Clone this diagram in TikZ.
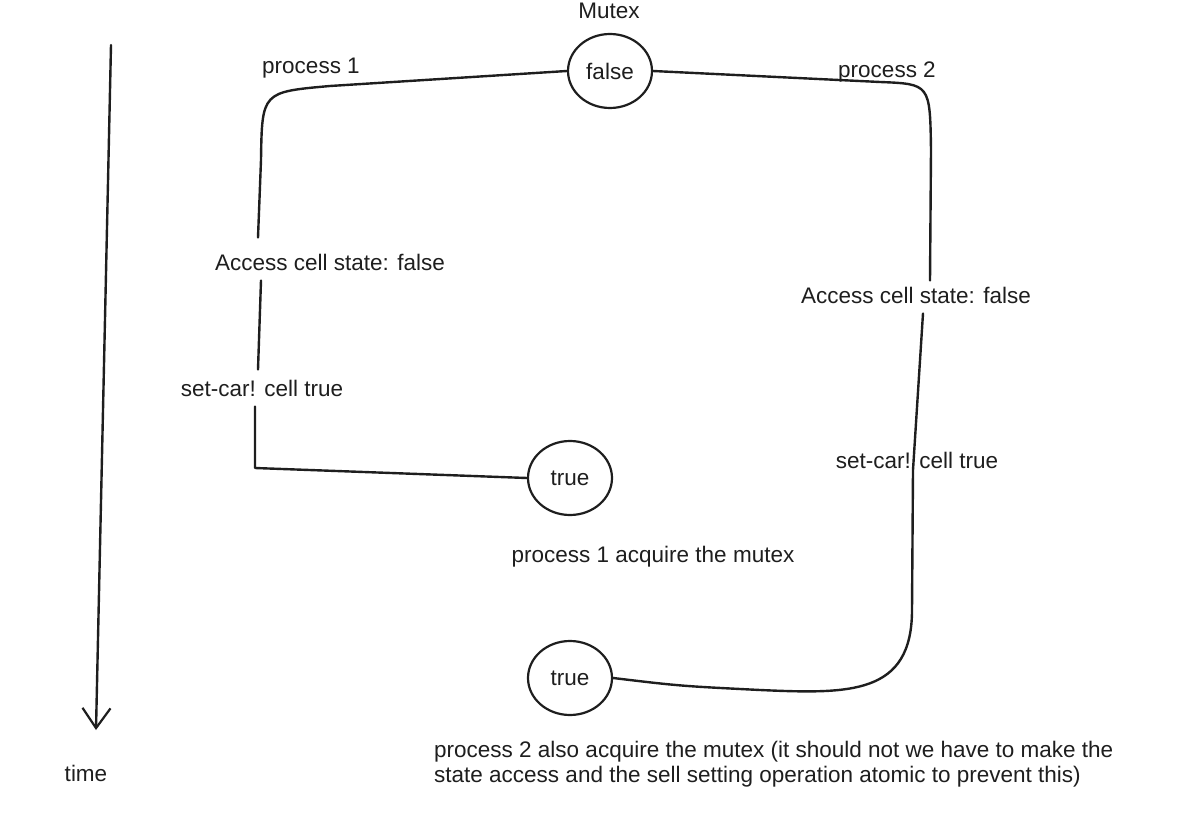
\documentclass[tikz,border=0pt]{standalone}
\usepackage{fontspec}
\setmainfont{Liberation Sans}
\usetikzlibrary{shapes.geometric,arrows.meta}
\definecolor{ink}{HTML}{1E1E1E}
\begin{document}
\begin{tikzpicture}[x=1pt,y=-1pt,
  every node/.style={text=ink,font=\fontsize{22.5}{25}\selectfont},
  state/.style={draw=ink,line width=2.2pt,ellipse,minimum width=84pt,minimum height=74pt,inner sep=0pt},
  wire/.style={draw=ink,line width=2.4pt,line cap=round,line join=round},
  lbl/.style={inner sep=2pt}]
\useasboundingbox (0,0) rectangle (1197,818);

% time axis
\coordinate (t0) at (111,45);
\coordinate (t1) at (96,730);
\draw[wire,-{Straight Barb[length=20pt,width=28pt,line width=2.2pt]}] (t0) -- (t1);
\node[lbl] (time) at (86,773) {time};

% mutex and its states
\node[lbl] (mutex) at (609,11) {Mutex};
\node[state] (mf) at (610,71) {false};
\node[state] (ta) at (570,478) {true};
\node[state] (tb) at (570,678) {true};

% step labels
\node[lbl] (p1) at (311,68) {process 1};
\node[lbl] (p2) at (887,72) {process 2};
\node[lbl] (acc1) at (330,262) {Access cell state: false};
\node[lbl] (set1) at (262,388) {set-car! cell true};
\node[lbl] (acc2) at (916,295) {Access cell state: false};
\node[lbl] (set2) at (917,460) {set-car! cell true};
\node[lbl] (got1) at (653,557) {process 1 acquire the mutex};
\node[lbl,anchor=north west,align=left] (got2) at (432,739)
  {process 2 also acquire the mutex (it should not we have to make the\\
   state access and the sell setting operation atomic to prevent this)};

% process 1 timeline
\draw[wire] (mf.west) -- (330,86) .. controls (262,92) .. (261,160) -- ([xshift=-72pt,yshift=14pt]acc1.north);
\draw[wire] ([xshift=-69pt,yshift=-8pt]acc1.south) -- ([xshift=-4pt,yshift=8pt]set1.north);
\draw[wire] ([xshift=-7pt,yshift=-8pt]set1.south) -- (255,468) -- (ta.west);

% process 2 timeline
\draw[wire] (mf.east) -- (880,82) .. controls (930,84) .. (931,150) -- ([xshift=14pt,yshift=4pt]acc2.north);
\draw[wire] ([xshift=7pt,yshift=-8pt]acc2.south) -- (913,470) -- (912,610)
  .. controls (912,695) and (850,694) .. (760,690) .. controls (680,686) .. (tb.east);
\end{tikzpicture}
\end{document}
